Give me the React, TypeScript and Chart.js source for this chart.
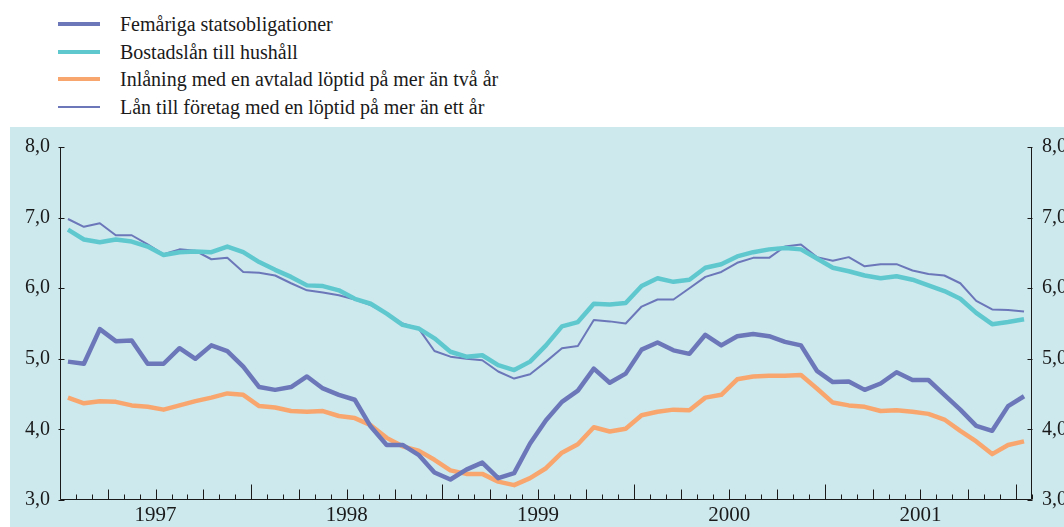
import React, { useEffect, useRef } from 'react';
import { Chart, registerables } from 'chart.js';

Chart.register(...registerables);

// Monthly observations, January 1997 – January 2002
const years = ['1997', '1998', '1999', '2000', '2001'];
const yTickLabels = ['3,0', '4,0', '5,0', '6,0', '7,0', '8,0'];

const seriesNames = [
  'Femåriga statsobligationer',
  'Bostadslån till hushåll',
  'Inlåning med en avtalad löptid på mer än två år',
  'Lån till företag med en löptid på mer än ett år',
];

const femarigaStatsobligationer = [
  4.96, 4.93, 5.42, 5.25, 5.26, 4.93, 4.93, 5.15, 5.0, 5.19, 5.11, 4.89,
  4.6, 4.56, 4.6, 4.75, 4.58, 4.49, 4.42, 4.04, 3.78, 3.78, 3.64, 3.39,
  3.29, 3.43, 3.53, 3.31, 3.38, 3.8, 4.13, 4.39, 4.55, 4.86, 4.66, 4.79,
  5.13, 5.23, 5.12, 5.07, 5.34, 5.19, 5.32, 5.35, 5.32, 5.24, 5.19, 4.83,
  4.67, 4.68, 4.56, 4.65, 4.81, 4.7, 4.7, 4.49, 4.28, 4.05, 3.98, 4.33, 4.47,
];

const bostadslanTillHushall = [
  6.83, 6.69, 6.65, 6.69, 6.66, 6.59, 6.47, 6.51, 6.52, 6.51, 6.59, 6.51,
  6.37, 6.26, 6.16, 6.04, 6.03, 5.97, 5.85, 5.78, 5.64, 5.48, 5.43, 5.29,
  5.1, 5.03, 5.05, 4.91, 4.84, 4.96, 5.19, 5.46, 5.52, 5.78, 5.77, 5.79,
  6.03, 6.14, 6.09, 6.12, 6.29, 6.34, 6.45, 6.51, 6.55, 6.57, 6.55, 6.42,
  6.29, 6.24, 6.18, 6.14, 6.17, 6.12, 6.04, 5.96, 5.85, 5.65, 5.49, 5.52, 5.56,
];

const inlaningAvtaladLoptid = [
  4.45, 4.37, 4.4, 4.39, 4.34, 4.32, 4.28, 4.34, 4.4, 4.45, 4.51, 4.49,
  4.33, 4.31, 4.26, 4.25, 4.26, 4.19, 4.16, 4.06, 3.88, 3.76, 3.7, 3.57,
  3.42, 3.37, 3.37, 3.26, 3.21, 3.31, 3.45, 3.67, 3.79, 4.03, 3.97, 4.01,
  4.2, 4.25, 4.28, 4.27, 4.45, 4.49, 4.71, 4.75, 4.76, 4.76, 4.77, 4.58,
  4.38, 4.34, 4.32, 4.26, 4.27, 4.25, 4.22, 4.14, 3.98, 3.83, 3.65, 3.78, 3.83,
];

const lanTillForetag = [
  6.98, 6.87, 6.92, 6.75, 6.75, 6.62, 6.48, 6.55, 6.53, 6.41, 6.43, 6.23,
  6.22, 6.18, 6.07, 5.97, 5.94, 5.9, 5.84, 5.76, 5.64, 5.5, 5.43, 5.11,
  5.03, 5.0, 4.98, 4.82, 4.72, 4.78, 4.96, 5.15, 5.18, 5.55, 5.53, 5.5,
  5.74, 5.84, 5.84, 6.0, 6.16, 6.23, 6.36, 6.43, 6.43, 6.59, 6.62, 6.44,
  6.39, 6.44, 6.31, 6.34, 6.34, 6.25, 6.2, 6.18, 6.07, 5.82, 5.7, 5.69, 5.67,
];

const seriesValues = [
  femarigaStatsobligationer,
  bostadslanTillHushall,
  inlaningAvtaladLoptid,
  lanTillForetag,
];

const colors = ['#6b77b9', '#5fc8cf', '#f9a66e', '#6b77b9'];
const widths = [4.5, 4.5, 4.5, 2];

const FONT = "'Liberation Serif', 'Times New Roman', Times, serif";
const INK = '#1a1a1a';

const axisPlugin = {
  id: 'axisMarks',
  afterDraw(chart: any) {
    const { ctx, chartArea, scales } = chart;
    const xs = scales.x;
    const ys = scales.y;
    const n = femarigaStatsobligationer.length;
    ctx.save();
    ctx.strokeStyle = INK;
    ctx.lineWidth = 1;
    ctx.beginPath();
    const L = Math.round(chartArea.left) + 0.5;
    const R = Math.round(chartArea.right) - 0.5;
    const B = Math.round(chartArea.bottom) - 0.5;
    const T = Math.round(chartArea.top);
    // axis lines
    ctx.moveTo(L, T);
    ctx.lineTo(L, B);
    ctx.lineTo(R, B);
    ctx.lineTo(R, T);
    // month ticks
    for (let k = 0; k <= n; k++) {
      const px = Math.round(xs.getPixelForValue(k - 0.5)) + 0.5;
      const len = k % 12 === 0 ? 15 : k % 3 === 0 ? 10 : 5;
      ctx.moveTo(px, B);
      ctx.lineTo(px, B - len);
    }
    // value ticks
    for (let v = 3; v <= 8; v++) {
      const py = Math.round(ys.getPixelForValue(v)) + 0.5;
      ctx.moveTo(L - 2, py);
      ctx.lineTo(L + 4, py);
      ctx.moveTo(R - 4, py);
      ctx.lineTo(R + 1, py);
    }
    ctx.stroke();
    ctx.restore();
  },
};

export default function App() {
  const ref = useRef<HTMLCanvasElement | null>(null);

  useEffect(() => {
    if (!ref.current) return;
    const yTicks = {
      stepSize: 1,
      padding: 10,
      color: INK,
      font: { family: FONT, size: 20 },
      callback: (v: any) => yTickLabels[Math.round(Number(v)) - 3],
    };
    const chart = new Chart(ref.current, {
      type: 'line',
      data: {
        datasets: seriesValues.map((vals, s) => ({
          label: seriesNames[s],
          data: vals.map((v, i) => ({ x: i, y: v })),
          borderColor: colors[s],
          backgroundColor: colors[s],
          borderWidth: widths[s],
          pointRadius: 0,
          tension: 0,
          fill: false,
          borderJoinStyle: 'round' as const,
        })),
      },
      options: {
        animation: false,
        responsive: false,
        maintainAspectRatio: false,
        layout: { padding: { top: 147, left: 0, right: 0, bottom: 0 } },
        plugins: { legend: { display: false }, tooltip: { enabled: false } },
        scales: {
          x: {
            type: 'linear',
            min: -0.5,
            max: femarigaStatsobligationer.length - 0.5,
            grid: { display: false, drawTicks: false },
            border: { display: false },
            afterBuildTicks: (s: any) => {
              s.ticks = years.map((_, i) => ({ value: i * 12 + 5.5 }));
            },
            afterFit: (s: any) => {
              s.height = 27;
            },
            ticks: {
              autoSkip: false,
              maxRotation: 0,
              padding: 3,
              color: INK,
              font: { family: FONT, size: 21 },
              callback: (_v: any, i: number) => years[i],
            },
          },
          y: {
            position: 'left',
            min: 3,
            max: 8,
            grid: { display: false, drawTicks: false },
            border: { display: false },
            afterFit: (s: any) => {
              s.width = 60;
            },
            ticks: yTicks,
          },
          y2: {
            position: 'right',
            min: 3,
            max: 8,
            grid: { display: false, drawTicks: false },
            border: { display: false },
            afterFit: (s: any) => {
              s.width = 32;
            },
            ticks: yTicks,
          },
        },
      },
      plugins: [axisPlugin],
    } as any);
    return () => chart.destroy();
  }, []);

  const rowCenters = [24, 51.5, 79, 106.5];

  return (
    <div
      style={{
        position: 'absolute',
        left: 0,
        top: 0,
        width: 1064,
        height: 527,
        background: '#ffffff',
        overflow: 'hidden',
        fontFamily: FONT,
      }}
    >
      <div
        style={{
          position: 'absolute',
          left: 10,
          top: 127,
          width: 1054,
          height: 400,
          background: '#cde9ee',
        }}
      />
      {seriesNames.map((name, s) => (
        <div
          key={name}
          style={{
            position: 'absolute',
            left: 0,
            top: rowCenters[s] - 13,
            height: 26,
            width: 700,
          }}
        >
          <div
            style={{
              position: 'absolute',
              left: 58,
              top: 13 - (widths[s] === 2 ? 1 : 2),
              width: 42,
              height: widths[s] === 2 ? 2 : 4,
              background: colors[s],
            }}
          />
          <span
            style={{
              position: 'absolute',
              left: 120,
              top: 0,
              lineHeight: '26px',
              fontSize: '20px',
              fontFamily: FONT,
              color: INK,
              whiteSpace: 'nowrap',
            }}
          >
            {name}
          </span>
        </div>
      ))}
      <canvas
        ref={ref}
        width={1064}
        height={527}
        style={{ position: 'absolute', left: 0, top: 0, width: 1064, height: 527 }}
      />
    </div>
  );
}
